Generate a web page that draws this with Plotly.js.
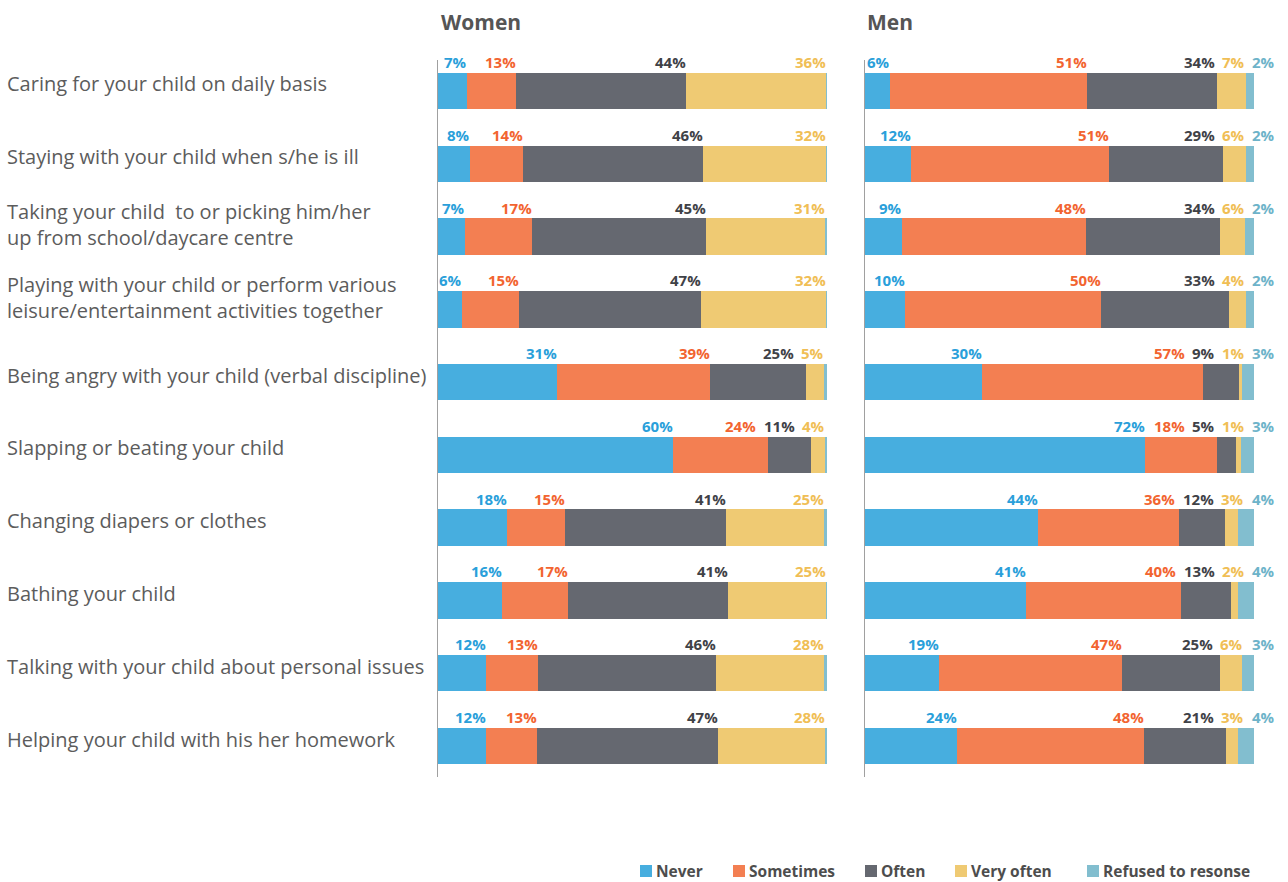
<!DOCTYPE html>
<html><head><meta charset="utf-8">
<script src="https://cdn.plot.ly/plotly-3.0.1.min.js"></script>
<style>html,body{margin:0;padding:0;background:#fff}#chart{width:1288px;height:882px}</style>
</head><body><div id="chart"></div>
<script>
// ---------------- DATA ----------------
const categories = [
  'Caring for your child on daily basis',
  'Staying with your child when s/he is ill',
  'Taking your child  to or picking him/her<br>up from school/daycare centre',
  'Playing with your child or perform various<br>leisure/entertainment activities together',
  'Being angry with your child (verbal discipline)',
  'Slapping or beating your child',
  'Changing diapers or clothes',
  'Bathing your child',
  'Talking with your child about personal issues',
  'Helping your child with his her homework'
];
const seriesNames = ['Never', 'Sometimes', 'Often', 'Very often', 'Refused to resonse'];
const panelTitles = ['Women', 'Men'];

const womenNever     = [7.4, 8.2, 7.0, 6.1, 30.7, 60.4, 17.8, 16.4, 12.4, 12.3];
const womenSometimes = [12.6, 13.6, 17.2, 14.8, 39.1, 24.4, 14.9, 17.1, 13.2, 13.2];
const womenOften     = [43.8, 46.2, 44.6, 46.6, 24.8, 11.0, 41.4, 41.0, 45.8, 46.5];
const womenVeryOften = [35.9, 31.8, 30.6, 32.3, 4.7, 3.6, 25.2, 25.2, 27.9, 27.5];
const womenRefused   = [0.3, 0.2, 0.6, 0.2, 0.7, 0.6, 0.7, 0.3, 0.7, 0.5];

const menNever     = [6.3, 11.9, 9.4, 10.4, 30.1, 72.0, 44.4, 41.4, 19.1, 23.7];
const menSometimes = [50.7, 50.9, 47.5, 50.2, 56.8, 18.4, 36.3, 39.9, 47.0, 48.0];
const menOften     = [33.6, 29.2, 34.3, 32.9, 9.2, 4.9, 11.9, 12.8, 25.2, 21.1];
const menVeryOften = [7.3, 5.9, 6.4, 4.4, 0.8, 1.3, 3.3, 1.8, 5.6, 3.1];
const menRefused   = [2.1, 2.1, 2.4, 2.1, 3.1, 3.4, 4.1, 4.1, 3.1, 4.1];

// ---------------- STYLE ----------------
const W = 1288, H = 882;
const barColors   = ['#47AEDF', '#F37F52', '#656870', '#EFCA73', '#82BECF'];
const labelColors = ['#2A9FDA', '#F26430', '#3F4247', '#F0BE55', '#6DB3C9'];
const FONT = 'Open Sans, Noto Sans, sans-serif';
const ppu = 3.89;               // pixels per percent
const womenX0 = 438, menX0 = 865;
const womenRange = [0, 100.5], menRange = [0, 106];
const yTop = 60, yBot = 777;
const yRange = [9.426, -0.426];
const labelMin = 0.75;          // shares below this get no label
const labelSize = 15;
const gapPx = 6, refusedOffsetPx = 21;

const px2x = p => p / W;
const py2y = p => 1 - p / H;

const ctx = document.createElement('canvas').getContext('2d');
function textW(t, size, weight) { ctx.font = weight + ' ' + size + 'px "Open Sans"'; return ctx.measureText(t).width; }

const panels = [
  {vals: [womenNever, womenSometimes, womenOften, womenVeryOften, womenRefused], xa: 'x', ya: 'y'},
  {vals: [menNever, menSometimes, menOften, menVeryOften, menRefused], xa: 'x2', ya: 'y2'}
];

const traces = [];
panels.forEach(p => {
  p.vals.forEach((arr, k) => {
    traces.push({
      type: 'bar', orientation: 'h', name: seriesNames[k],
      x: arr, y: categories, xaxis: p.xa, yaxis: p.ya,
      width: 0.5,
      marker: {color: barColors[k], line: {width: 0}},
      showlegend: false, hoverinfo: 'skip'
    });
  });
});

const annotations = [];
panels.forEach(p => {
  categories.forEach((cat, r) => {
    const v = p.vals.map(s => s[r]);
    const ends = []; let c = 0;
    v.forEach(x => { c += x; ends.push(c); });
    const starts = v.map((x, k) => ends[k] - x);
    let limit = null;
    for (let k = v.length - 1; k >= 0; k--) {
      if (v[k] < labelMin) { limit = null; continue; }
      const txt = Math.round(v[k]) + '%';
      const w = (textW(txt, labelSize, 'bold') + 2) / ppu;
      let right;
      if (k === v.length - 1) {
        right = ends[k] + refusedOffsetPx / ppu;
      } else {
        right = Math.max(ends[k], (starts[k] + ends[k]) / 2 + w / 2);
        right = Math.min(right, limit !== null ? limit : ends[k]);
      }
      limit = right - w - gapPx / ppu;
      annotations.push({
        xref: p.xa, yref: p.ya, x: right, y: cat,
        xanchor: 'right', yanchor: 'bottom', yshift: 17, xshift: 2,
        text: txt, showarrow: false,
        font: {family: FONT, size: labelSize, color: labelColors[k], weight: 'bold'}
      });
    }
  });
});

// category labels
categories.forEach(cat => {
  annotations.push({
    xref: 'paper', yref: 'y', x: px2x(5), y: cat,
    xanchor: 'left', yanchor: 'middle', align: 'left',
    yshift: cat.indexOf('<br>') >= 0 ? 12 : 7,
    text: cat, showarrow: false,
    font: {family: FONT, size: 20, color: '#5c5c5c'}
  });
});

// panel titles
[womenX0 + 1, menX0].forEach((px, i) => {
  annotations.push({
    xref: 'paper', yref: 'paper', x: px2x(px), y: py2y(22),
    xanchor: 'left', yanchor: 'middle', text: panelTitles[i], showarrow: false,
    font: {family: FONT, size: 21, color: '#555555', weight: 'bold'}
  });
});

// legend
const legendX = [640, 733, 865, 955, 1087];
const shapes = [];
seriesNames.forEach((n, k) => {
  shapes.push({type: 'rect', xref: 'paper', yref: 'paper',
    x0: px2x(legendX[k]), x1: px2x(legendX[k] + 12), y0: py2y(877), y1: py2y(865),
    fillcolor: barColors[k], line: {width: 0}});
  annotations.push({xref: 'paper', yref: 'paper', x: px2x(legendX[k] + 14), y: py2y(871),
    xanchor: 'left', yanchor: 'middle', text: n, showarrow: false,
    font: {family: FONT, size: 15.5, color: '#4d4d4d', weight: 'bold'}});
});

const axX = (x0, range) => ({
  domain: [px2x(x0), px2x(x0 + (range[1] - range[0]) * ppu)], range: range,
  showgrid: false, zeroline: false, showline: false, showticklabels: false, ticks: '', fixedrange: true
});
const axY = (anchor) => ({
  domain: [py2y(yBot), py2y(yTop)], range: yRange, type: 'category', anchor: anchor,
  showgrid: false, zeroline: false, showline: true, linecolor: '#a0a0a0', linewidth: 1.5,
  showticklabels: false, ticks: '', fixedrange: true
});

const layout = {
  width: W, height: H,
  margin: {l: 0, r: 0, t: 0, b: 0},
  paper_bgcolor: '#ffffff', plot_bgcolor: 'rgba(0,0,0,0)',
  barmode: 'stack', showlegend: false,
  xaxis: axX(womenX0, womenRange), yaxis: axY('x'),
  xaxis2: axX(menX0, menRange), yaxis2: axY('x2'),
  annotations: annotations, shapes: shapes,
  font: {family: FONT}
};

Plotly.newPlot('chart', traces, layout, {displayModeBar: false, staticPlot: true});
</script>
</body></html>
